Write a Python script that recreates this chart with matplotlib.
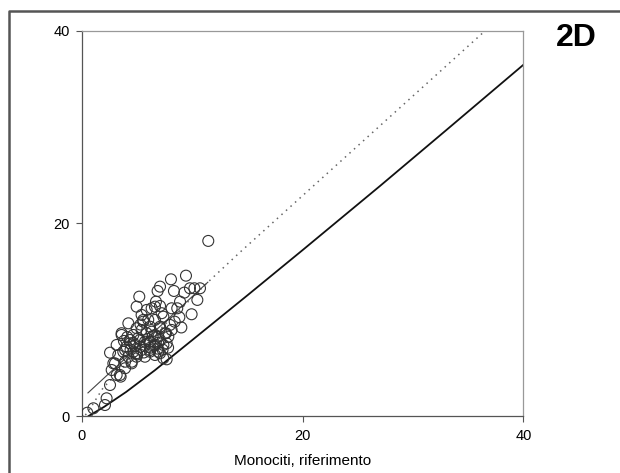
import matplotlib
matplotlib.use("Agg")
import matplotlib.pyplot as plt
from matplotlib.lines import Line2D

plt.rcParams["font.family"] = ["Liberation Sans", "DejaVu Sans"]

# Monocyte counts: reference method (x) vs. tested method (y)
mono_ref = [
    11.44, 9.42, 8.06, 7.07, 6.85, 8.33, 5.19, 9.78, 10.18, 10.69, 9.27, 10.45,
    6.70, 8.88, 4.95, 6.31, 7.07, 8.12, 8.63, 5.40, 7.37, 8.82, 9.93, 5.55,
    6.61, 4.20, 7.97, 6.16, 7.07, 5.40, 3.59, 4.65, 5.86, 6.61, 7.61, 8.12,
    4.35, 5.25, 6.16, 7.07, 7.82, 3.14, 4.05, 4.80, 5.70, 6.52, 7.37, 3.74,
    4.65, 5.40, 6.16, 6.91, 2.54, 3.29, 4.20, 4.95, 5.70, 6.61, 7.67, 2.99,
    3.90, 4.50, 2.69, 3.14, 3.50, 2.54, 2.23, 2.08, 1.03, 0.48,
    3.59, 2.84, 3.44, 3.90, 4.50, 4.95, 5.25, 5.70, 6.16, 6.61, 7.07, 6.91,
    6.31, 7.07, 7.52, 7.67, 7.37, 4.95, 5.55, 5.86, 6.61, 7.22, 4.35, 3.90,
    4.65, 5.10, 5.95, 6.40, 6.85, 7.30, 4.40, 5.00, 5.60, 6.20, 6.90, 7.80,
    3.80, 8.40, 9.00, 5.30, 6.00, 4.10,
]
mono_test = [
    18.19, 14.58, 14.20, 13.44, 12.99, 12.99, 12.40, 13.27, 13.27, 13.27, 12.82, 12.06,
    11.88, 11.88, 11.36, 11.19, 11.43, 11.19, 11.19, 10.50, 10.32, 10.26, 10.57, 9.80,
    9.98, 9.63, 9.46, 9.28, 9.12, 8.94, 8.42, 8.42, 8.60, 8.42, 8.60, 8.94,
    7.90, 7.90, 7.72, 7.90, 8.24, 7.38, 7.20, 7.28, 7.38, 7.28, 7.38, 6.68,
    6.68, 6.86, 6.68, 6.68, 6.58, 6.34, 6.16, 6.16, 6.16, 6.34, 5.89, 5.47,
    5.64, 5.47, 4.78, 4.26, 4.09, 3.22, 1.84, 1.14, 0.80, 0.34,
    8.60, 5.47, 4.26, 4.96, 5.64, 6.52, 7.20, 7.72, 6.86, 7.38, 6.52, 8.24,
    8.76, 9.28, 8.60, 7.55, 6.00, 9.12, 9.98, 11.02, 11.36, 10.68, 7.55, 6.86,
    7.60, 8.10, 8.00, 8.30, 7.00, 6.90, 6.90, 6.40, 6.60, 7.10, 7.60, 7.10,
    7.80, 9.80, 9.20, 9.50, 10.00, 8.20,
]

# Limits of agreement (upper dotted, lower solid) and regression segment
upper_x = [0.3, 0.54, 1.9, 6.0, 11.4, 14.3, 22.6, 36.5]
upper_y = [0.1, 0.42, 2.9, 7.8, 13.9, 17.0, 25.6, 40.0]
lower_x = [0.6, 2.0, 4.0, 6.6, 10.0, 15.0, 20.0, 27.0, 33.0, 40.0]
lower_y = [0.0, 0.95, 2.5, 4.75, 7.9, 12.55, 17.25, 23.9, 29.7, 36.5]
reg_x = [0.54, 11.4]
reg_y = [2.4, 13.9]

ticks = [0, 20, 40]

fig = plt.figure(figsize=(6.2, 4.73), dpi=100)
ax = fig.add_axes([82 / 620, 57 / 473, 441.5 / 620, 385 / 473])

ax.plot(upper_x, upper_y, color="#666666", lw=1.1, linestyle=(0, (1, 3)))
ax.plot(lower_x, lower_y, color="#111111", lw=1.3)
ax.plot(reg_x, reg_y, color="#444444", lw=0.8)
ax.scatter(mono_ref, mono_test, s=62, facecolors="none",
           edgecolors="#333333", linewidths=0.8, zorder=3)

ax.set_xlim(0, 40)
ax.set_ylim(0, 40)
ax.set_xticks(ticks)
ax.set_yticks(ticks)
ax.set_xticklabels([str(t) for t in ticks])
ax.set_yticklabels([str(t) for t in ticks])
ax.tick_params(direction="out", length=4, width=0.8, color="#555555",
               labelsize=10.5, pad=5)
for side in ("left", "bottom"):
    ax.spines[side].set_color("#555555")
    ax.spines[side].set_linewidth(0.9)
for side in ("top", "right"):
    ax.spines[side].set_color("#999999")
    ax.spines[side].set_linewidth(0.9)

ax.set_xlabel("Monociti, riferimento", fontsize=11, labelpad=8)

# Panel label and outer frame
fig.text(0.93, 0.92, "2D", fontsize=23, fontweight="bold",
         ha="center", va="center")
frame = Line2D([9 / 620, 9 / 620, 1.01], [-0.01, 1 - 11 / 473, 1 - 11 / 473],
               transform=fig.transFigure, color="#555555", lw=1.8)
fig.add_artist(frame)

fig.savefig("out.png", dpi=100)
